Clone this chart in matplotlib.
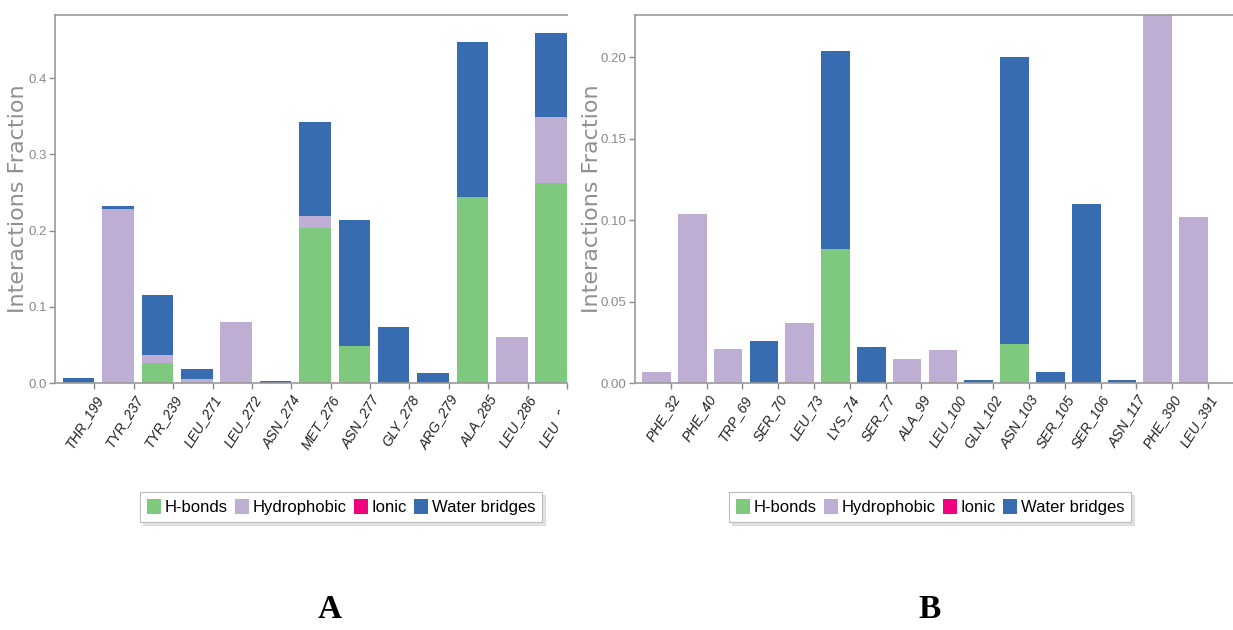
import matplotlib
matplotlib.use("Agg")
import matplotlib.pyplot as plt
import numpy as np
from matplotlib.patches import Patch
from matplotlib.transforms import Bbox, TransformedBbox

# ---------------- data ----------------
residues_a = ["THR_199", "TYR_237", "TYR_239", "LEU_271", "LEU_272", "ASN_274",
              "MET_276", "ASN_277", "GLY_278", "ARG_279", "ALA_285", "LEU_286", "LEU_287"]
hbond_a = [0.0, 0.0, 0.026, 0.0, 0.0, 0.0, 0.203, 0.049, 0.0, 0.0, 0.244, 0.0, 0.263]
hydro_a = [0.0, 0.229, 0.011, 0.005, 0.080, 0.0, 0.016, 0.0, 0.0, 0.0, 0.0, 0.061, 0.086]
ionic_a = [0.0] * 13
water_a = [0.006, 0.003, 0.078, 0.013, 0.0, 0.002, 0.123, 0.165, 0.074, 0.013, 0.203, 0.0, 0.110]

residues_b = ["PHE_32", "PHE_40", "TRP_69", "SER_70", "LEU_73", "LYS_74", "SER_77", "ALA_99",
              "LEU_100", "GLN_102", "ASN_103", "SER_105", "SER_106", "ASN_117", "PHE_390", "LEU_391"]
hbond_b = [0.0, 0.0, 0.0, 0.0, 0.0, 0.082, 0.0, 0.0, 0.0, 0.0, 0.024, 0.0, 0.0, 0.0, 0.0, 0.0]
hydro_b = [0.007, 0.104, 0.021, 0.0, 0.037, 0.0, 0.0, 0.015, 0.020, 0.0, 0.0, 0.0, 0.0, 0.0, 0.245, 0.102]
ionic_b = [0.0] * 16
water_b = [0.0, 0.0, 0.0, 0.026, 0.0, 0.122, 0.022, 0.0, 0.0, 0.002, 0.176, 0.007, 0.110, 0.002, 0.0, 0.0]

series_names = ["H-bonds", "Hydrophobic", "Ionic", "Water bridges"]
series_colors = ["#7fc97f", "#beaed4", "#f0027f", "#386cb0"]

W, H = 1233, 630
fig = plt.figure(figsize=(W / 100, H / 100), dpi=100)

narrow = ["Liberation Sans", "DejaVu Sans"]
grey = "#8a8a8a"


def panel(rect, residues, series, ylim, yticks, yfmt, xright, ylabel_x_px, clip_right_px=None):
    ax = fig.add_axes(rect)
    x = np.arange(len(residues))
    bottom = np.zeros(len(residues))
    for vals, col in zip(series, series_colors):
        vals = np.asarray(vals)
        ax.bar(x - 0.4, vals, width=0.8, bottom=bottom, color=col, edgecolor="none")
        bottom += vals
    ax.set_xlim(-1.0, xright)
    ax.set_ylim(*ylim)
    ax.set_yticks(yticks)
    ax.set_yticklabels([yfmt.format(v) for v in yticks], color=grey, fontsize=9.5,
                       family=narrow)
    ax.set_xticks(x)
    ax.set_xticklabels(residues, rotation=58, ha="right", rotation_mode="anchor",
                       fontsize=10, family=narrow, style="italic", color="#222222")
    ax.tick_params(axis="both", colors=grey, length=4, width=1)
    ax.tick_params(axis="x", labelcolor="#222222", pad=3)
    ax.tick_params(axis="y", labelcolor=grey, pad=2)
    for s in ["left", "top", "bottom"]:
        ax.spines[s].set_color("#999999")
        ax.spines[s].set_linewidth(1.2)
    ax.spines["right"].set_visible(False)
    ax.set_ylabel("Interactions Fraction", fontsize=16, color="#909090")
    left_px = rect[0] * W
    width_px = rect[2] * W
    ax.yaxis.set_label_coords((ylabel_x_px - left_px) / width_px, 0.5)
    ax.yaxis.label.set_va("center")
    if clip_right_px is not None:
        cb = TransformedBbox(Bbox([[0, 0], [clip_right_px / W, 1]]), fig.transFigure)
        for lbl in ax.get_xticklabels():
            lbl.set_clip_box(cb)
            lbl.set_clip_on(True)
    return ax


ax_a = panel([55 / W, 1 - 383 / H, (567 - 55) / W, (383 - 15) / H], residues_a,
             [hbond_a, hydro_a, ionic_a, water_a], (0, 0.483),
             [0.0, 0.1, 0.2, 0.3, 0.4], "{:.1f}", 11.5, 18, clip_right_px=560)
ax_b = panel([635 / W, 1 - 383 / H, (1233 - 635) / W, (383 - 15) / H], residues_b,
             [hbond_b, hydro_b, ionic_b, water_b], (0, 0.2258),
             [0.0, 0.05, 0.10, 0.15, 0.20], "{:.2f}", 15.7, 592)

handles = [Patch(facecolor=c, edgecolor="none", label=n) for n, c in zip(series_names, series_colors)]
for cx in (341, 930):
    leg = fig.legend(handles=handles, loc="center", bbox_to_anchor=(cx / W, 1 - 507 / H),
                     ncol=4, frameon=True, shadow={"color": "#c8c8c8"}, fancybox=False,
                     prop={"family": narrow, "size": 12}, handlelength=0.85,
                     handleheight=1.0, handletextpad=0.2, columnspacing=0.45,
                     borderpad=0.4, borderaxespad=0)
    leg.get_frame().set_edgecolor("#bbbbbb")
    leg.get_frame().set_linewidth(0.8)

fig.text(330 / W, 1 - 610 / H, "A", ha="center", va="center", fontsize=24,
         fontweight="bold", family=["Liberation Serif", "DejaVu Serif"])
fig.text(930 / W, 1 - 610 / H, "B", ha="center", va="center", fontsize=24,
         fontweight="bold", family=["Liberation Serif", "DejaVu Serif"])

fig.savefig("out.png", dpi=100)
